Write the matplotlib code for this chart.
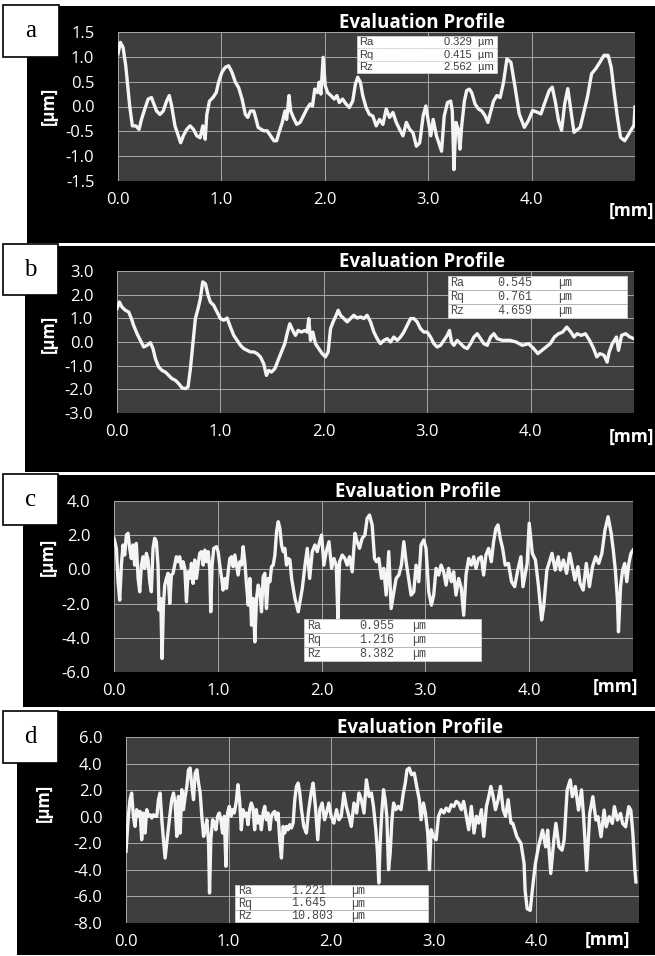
import matplotlib.pyplot as plt
from matplotlib.patches import Rectangle
from matplotlib.lines import Line2D

plt.rcParams['font.family'] = ['Open Sans', 'DejaVu Sans']

# ---- profile data (x in mm, height in um) ----
a_x = [0.000, 0.023, 0.049, 0.075, 0.097, 0.113, 0.139, 0.172, 0.204, 0.227,
       0.259, 0.292, 0.324, 0.347, 0.373, 0.405, 0.438, 0.470, 0.496, 0.519,
       0.551, 0.584, 0.606, 0.632, 0.665, 0.697, 0.730, 0.762, 0.794, 0.820,
       0.843, 0.859, 0.885, 0.918, 0.950, 0.973, 1.005, 1.038, 1.070, 1.102,
       1.135, 1.167, 1.200, 1.232, 1.255, 1.281, 1.313, 1.336, 1.355, 1.385,
       1.410, 1.443, 1.475, 1.508, 1.534, 1.556, 1.589, 1.615, 1.631, 1.654,
       1.670, 1.696, 1.728, 1.761, 1.793, 1.826, 1.858, 1.881, 1.903, 1.929,
       1.945, 1.962, 1.984, 2.004, 2.027, 2.059, 2.091, 2.117, 2.140, 2.172,
       2.205, 2.237, 2.270, 2.296, 2.318, 2.344, 2.367, 2.399, 2.432, 2.464,
       2.497, 2.529, 2.562, 2.594, 2.626, 2.659, 2.691, 2.724, 2.756, 2.789,
       2.821, 2.853, 2.886, 2.918, 2.951, 2.977, 2.999, 3.025, 3.048, 3.080,
       3.113, 3.129, 3.155, 3.187, 3.217, 3.233, 3.249, 3.268, 3.291, 3.307,
       3.324, 3.350, 3.372, 3.398, 3.421, 3.453, 3.486, 3.518, 3.551, 3.577,
       3.606, 3.632, 3.664, 3.696, 3.729, 3.761,
       3.80, 3.84, 3.88, 3.93, 3.97, 4.01, 4.05, 4.09, 4.13, 4.17,
       4.20, 4.23, 4.26, 4.29, 4.32, 4.35, 4.38, 4.41, 4.47, 4.54,
       4.58, 4.62, 4.66, 4.70, 4.74, 4.77, 4.80, 4.83, 4.86, 4.90,
       4.93, 4.96, 4.99, 5.00]
a_y = [1.06, 1.29, 1.19, 0.82, 0.35, 0.01, -0.39, -0.39, -0.46, -0.26,
       -0.05, 0.15, 0.18, 0.05, -0.09, -0.16, -0.09, 0.11, 0.22, 0.01,
       -0.39, -0.59, -0.73, -0.59, -0.46, -0.39, -0.46, -0.59, -0.63, -0.39,
       -0.66, -0.16, 0.11, 0.18, 0.28, 0.49, 0.69, 0.79, 0.82, 0.69,
       0.49, 0.38, 0.15, -0.16, -0.22, -0.09, -0.09, -0.26, -0.42, -0.46,
       -0.49, -0.49, -0.59, -0.69, -0.69, -0.53, -0.32, -0.09, -0.26, 0.22,
       -0.09, -0.22, -0.36, -0.32, -0.19, -0.05, 0.05, 0.01, 0.35, 0.28,
       0.49, 0.25, 0.99, 0.42, 0.28, 0.22, 0.15, 0.22, 0.08, 0.15,
       0.05, -0.02, 0.11, 0.45, 0.59, 0.49, 0.22, -0.02, -0.16, -0.19,
       -0.39, -0.26, -0.36, -0.05, -0.22, -0.12, -0.32, -0.46, -0.59, -0.32,
       -0.46, -0.53, -0.80, -0.73, -0.19, 0.01, -0.26, -0.59, -0.26, -0.59,
       -0.80, -0.90, -0.19, 0.08, 0.11, -0.09, -1.27, -0.32, -0.46, -0.86,
       -0.39, 0.11, 0.32, 0.35, 0.28, 0.05, -0.05, -0.09, -0.19, -0.32,
       -0.09, 0.11, 0.22, 0.18, 0.49, 0.96,
       0.89, 0.39, -0.15, -0.42, -0.28, -0.08, -0.11, -0.15, 0.09, 0.32,
       0.39, 0.09, -0.28, -0.48, 0.05, 0.36, -0.08, -0.52, -0.42, 0.19,
       0.66, 0.76, 0.89, 1.03, 1.03, 0.79, 0.26, -0.22, -0.62, -0.69,
       -0.59, -0.48, -0.38, -0.01]

b_x = [0.000, 0.023, 0.048, 0.081, 0.113, 0.139, 0.161, 0.194, 0.226, 0.258,
       0.290, 0.323, 0.348, 0.371, 0.403, 0.435, 0.468, 0.500, 0.532, 0.565,
       0.597, 0.629, 0.661, 0.687, 0.710, 0.732, 0.758, 0.784, 0.806, 0.829,
       0.855, 0.881, 0.903, 0.935, 0.968, 1.000, 1.032, 1.065, 1.097, 1.129,
       1.161, 1.194, 1.226, 1.258, 1.290, 1.323, 1.355, 1.387, 1.419, 1.445,
       1.468, 1.494, 1.526, 1.558, 1.590, 1.623, 1.645, 1.671, 1.700, 1.726,
       1.752, 1.784, 1.816, 1.839, 1.855, 1.871, 1.894, 1.919, 1.952, 1.984,
       2.016, 2.042, 2.065, 2.090, 2.113, 2.139, 2.161, 2.194, 2.226, 2.258,
       2.290, 2.323, 2.355, 2.387, 2.419, 2.452, 2.484, 2.516, 2.548, 2.581,
       2.613, 2.645, 2.677, 2.710, 2.742, 2.774, 2.806, 2.839, 2.871, 2.903,
       2.935, 2.968, 3.000, 3.032, 3.065, 3.097, 3.129, 3.161, 3.194, 3.216,
       3.235, 3.258, 3.290, 3.323, 3.355, 3.387, 3.419, 3.452, 3.484, 3.516,
       3.548, 3.581, 3.613, 3.645, 3.677, 3.726, 3.774,
       3.80, 3.86, 3.92, 3.98, 4.03, 4.07, 4.11, 4.15, 4.19, 4.23,
       4.27, 4.31, 4.35, 4.39, 4.42, 4.45, 4.49, 4.53, 4.57, 4.61,
       4.64, 4.67, 4.71, 4.74, 4.76, 4.79, 4.83, 4.85, 4.88, 4.92,
       4.96, 5.00]
b_y = [1.41, 1.69, 1.48, 1.34, 1.27, 0.99, 0.70, 0.35, 0.07, -0.21,
       -0.14, -0.03, -0.28, -0.70, -1.06, -1.20, -1.27, -1.41, -1.55, -1.62,
       -1.76, -1.94, -1.97, -1.90, -1.13, -0.14, 0.99, 1.41, 1.83, 2.54,
       2.46, 1.97, 1.69, 1.55, 1.27, 0.99, 0.92, 1.01, 0.63, 0.28,
       0.07, -0.14, -0.28, -0.35, -0.42, -0.42, -0.49, -0.63, -0.92, -1.41,
       -1.20, -1.27, -1.13, -0.77, -0.42, -0.07, 0.35, 0.77, 0.49, 0.28,
       0.49, 0.42, 0.49, 0.42, 0.99, 0.07, 0.42, -0.07, -0.28, -0.49,
       -0.63, -0.42, 0.56, 0.85, 1.06, 1.34, 1.13, 0.99, 0.85, 0.99,
       1.13, 1.01, 1.06, 0.99, 1.13, 0.85, 0.42, 0.14, -0.07, 0.07,
       0.14, 0.00, 0.21, 0.07, 0.21, 0.42, 0.70, 0.99, 0.99, 0.85,
       0.56, 0.42, 0.42, 0.21, -0.07, -0.21, -0.14, 0.07, 0.28, 0.49,
       0.00, -0.14, 0.07, -0.07, -0.21, -0.28, -0.07, 0.21, 0.35, 0.14,
       -0.07, -0.14, 0.21, 0.35, 0.14, 0.07, 0.07,
       0.07, 0.00, -0.14, -0.07, -0.28, -0.49, -0.35, -0.21, -0.07, 0.21,
       0.35, 0.42, 0.63, 0.42, 0.21, 0.35, 0.28, 0.35, 0.07, -0.28,
       -0.63, -0.49, -0.56, -0.85, -0.42, -0.07, 0.21, -0.35, 0.28, 0.35,
       0.21, 0.14]

c_x = [0.000, 0.023, 0.039, 0.055, 0.071, 0.087, 0.103, 0.119, 0.135, 0.151,
       0.167, 0.183, 0.199, 0.215, 0.232, 0.248, 0.264, 0.280, 0.296, 0.312,
       0.328, 0.344, 0.360, 0.376, 0.392, 0.408, 0.424, 0.434, 0.450, 0.463,
       0.476, 0.489, 0.505, 0.521, 0.537, 0.553, 0.569, 0.585, 0.601, 0.617,
       0.633, 0.650, 0.666, 0.682, 0.698, 0.714, 0.730, 0.746, 0.762, 0.778,
       0.794, 0.810, 0.826, 0.842, 0.859, 0.875, 0.891, 0.907, 0.923, 0.932,
       0.945, 0.961, 0.987, 1.003, 1.019, 1.035, 1.051, 1.068, 1.084, 1.100,
       1.116, 1.132, 1.148, 1.164, 1.180, 1.196, 1.212, 1.228, 1.244, 1.260,
       1.277, 1.293, 1.309, 1.325, 1.341, 1.357, 1.373, 1.389, 1.405, 1.421,
       1.437, 1.453, 1.469, 1.486, 1.502, 1.518, 1.534, 1.550, 1.566, 1.582,
       1.598, 1.614, 1.630, 1.646, 1.662, 1.678, 1.695, 1.711, 1.743, 1.775,
       1.814, 1.840, 1.862, 1.885, 1.910, 1.936, 1.958, 1.981, 2.000, 2.022,
       2.045, 2.071, 2.096, 2.119, 2.141, 2.157, 2.173, 2.199, 2.224, 2.247,
       2.269, 2.295, 2.321, 2.343, 2.365, 2.391, 2.417, 2.439, 2.462, 2.487,
       2.510, 2.529, 2.551, 2.577, 2.599, 2.622, 2.647, 2.670, 2.696, 2.718,
       2.744, 2.769, 2.792, 2.814, 2.840, 2.862, 2.888, 2.910, 2.936, 2.958,
       2.984, 3.006, 3.032, 3.058, 3.080, 3.103, 3.128, 3.151, 3.176, 3.199,
       3.224, 3.250, 3.272, 3.295, 3.321, 3.346, 3.369, 3.391, 3.417, 3.442,
       3.465, 3.487, 3.513, 3.538, 3.561, 3.583, 3.609, 3.635, 3.657, 3.679,
       3.699, 3.721, 3.744, 3.769,
       3.80, 3.83, 3.86, 3.89, 3.92, 3.94, 3.98, 4.00, 4.03, 4.06,
       4.09, 4.12, 4.14, 4.17, 4.20, 4.22, 4.25, 4.28, 4.30, 4.33,
       4.36, 4.39, 4.41, 4.44, 4.47, 4.49, 4.52, 4.55, 4.58, 4.61,
       4.64, 4.67, 4.70, 4.73, 4.76, 4.79, 4.81, 4.83, 4.85, 4.86,
       4.88, 4.90, 4.92, 4.94, 4.96, 4.98, 5.00]
c_y = [1.82, 1.23, -0.72, -1.80, 0.25, 1.43, 0.84, 2.01, 2.11, 1.23,
       0.64, 1.43, 0.25, 1.52, -0.53, -1.31, 0.25, 0.74, 0.06, 0.94,
       0.55, -0.72, -1.31, 1.23, 1.82, 1.62, 0.25, -2.38, -1.70, -5.21,
       -2.09, -0.92, -0.53, -0.23, -1.99, -0.33, -0.23, 0.25, 0.74, 0.45,
       0.74, 0.06, 0.45, 0.06, -1.89, -0.14, -0.53, 0.35, -0.82, 0.55,
       -0.53, 0.25, 0.94, 1.04, 0.25, 1.13, 0.45, 1.04, -0.04, -2.48,
       0.25, 1.23, 1.33, 1.04, 0.25, -0.43, -1.21, -0.53, -1.11, -0.14,
       0.64, 0.74, 0.16, 0.84, 0.25, -0.33, 0.45, 0.25, 1.33, 0.45,
       -0.92, -2.09, -0.53, -3.26, -1.70, -4.24, -1.70, -0.92, -1.31, -2.48,
       -0.43, -0.23, -2.29, -0.53, -0.72, 0.16, 0.25, 0.84, 2.21, 2.79,
       2.40, 1.43, 1.04, 1.23, 0.25, 0.64, 0.55, -0.53, -1.70, -2.48,
       -1.11, 0.25, 1.23, -0.53, 1.04, 1.43, 1.04, 1.62, 2.01, 0.25,
       1.04, 1.62, 0.06, 0.64, 0.25, -2.87, 0.45, 0.84, 0.64, 0.25,
       0.74, -0.14, 2.11, 1.62, 1.23, 1.82, 2.01, 2.99, 3.18, 2.60,
       0.64, 0.45, 0.64, -0.53, 0.06, -1.50, 1.04, -2.29, -1.31, -0.53,
       -0.33, 0.25, 1.62, 0.45, -0.62, -1.50, -1.31, 0.25, -0.72, 1.43,
       1.72, 1.23, -1.31, -2.09, -1.50, 0.06, -0.33, 0.25, -0.14, -0.92,
       0.06, -0.72, -0.14, -1.50, -0.53, -1.11, -2.68, -0.33, 0.64, 0.25,
       0.74, 0.06, 0.64, 0.74, -0.33, 0.84, 1.23, 0.45, 1.62, 2.40,
       2.60, 1.82, 1.23, 0.25,
       0.35, -0.72, -1.01, -0.04, 0.74, -1.01, 0.35, 2.70, 0.94, 0.55,
       -1.01, -2.96, -2.18, -0.04, 0.55, 0.94, -0.04, 0.74, -0.04, 0.55,
       -0.23, 0.94, 0.35, -0.62, 0.16, -0.82, -1.21, 0.35, -1.01, 0.16,
       0.74, 0.35, 0.94, 2.30, 3.08, 2.10, 1.13, -0.04, -1.79, -3.65,
       -1.01, -0.04, 0.35, -0.72, 0.35, 0.94, 1.13]

d_x = [0.000, 0.023, 0.039, 0.055, 0.072, 0.088, 0.104, 0.121, 0.137, 0.153,
       0.169, 0.186, 0.202, 0.218, 0.235, 0.251, 0.267, 0.283, 0.300, 0.316,
       0.332, 0.349, 0.365, 0.381, 0.397, 0.414, 0.430, 0.446, 0.463, 0.479,
       0.495, 0.511, 0.528, 0.544, 0.560, 0.577, 0.593, 0.609, 0.625, 0.642,
       0.658, 0.674, 0.691, 0.707, 0.723, 0.739, 0.756, 0.772, 0.788, 0.805,
       0.814, 0.827, 0.844, 0.860, 0.876, 0.893, 0.909, 0.925, 0.941, 0.958,
       0.974, 0.990, 1.007, 1.023, 1.039, 1.055, 1.075, 1.091, 1.107, 1.124,
       1.140, 1.156, 1.173, 1.189, 1.205, 1.221, 1.238, 1.254, 1.270, 1.287,
       1.303, 1.319, 1.336, 1.352, 1.368, 1.384, 1.401, 1.417, 1.433, 1.450,
       1.466, 1.482, 1.498, 1.515, 1.531, 1.547, 1.564, 1.580, 1.596, 1.612,
       1.629, 1.645, 1.661, 1.678, 1.694, 1.710, 1.733,
       1.758, 1.781, 1.804, 1.824, 1.846, 1.869, 1.889, 1.912, 1.935, 1.954,
       1.977, 2.000, 2.026, 2.052, 2.075, 2.098, 2.124, 2.147, 2.173, 2.196,
       2.222, 2.248, 2.271, 2.294, 2.320, 2.343, 2.369, 2.392, 2.412, 2.435,
       2.451, 2.464, 2.477, 2.493, 2.510, 2.526, 2.542, 2.559, 2.575, 2.592,
       2.608, 2.631, 2.654, 2.680, 2.703, 2.722, 2.739, 2.761, 2.784, 2.810,
       2.833, 2.859, 2.876, 2.899, 2.918, 2.941, 2.958, 2.974, 2.997, 3.023,
       3.046, 3.072, 3.098, 3.121, 3.147, 3.170, 3.196, 3.219, 3.242, 3.268,
       3.291, 3.317, 3.340, 3.366, 3.392, 3.415, 3.438, 3.464, 3.487, 3.513,
       3.536, 3.556, 3.578, 3.601, 3.627, 3.650, 3.676, 3.699, 3.725, 3.752,
       3.77, 3.81, 3.85, 3.88, 3.89, 3.91, 3.94, 3.96, 3.99, 4.02,
       4.06, 4.09, 4.11, 4.14, 4.17, 4.19, 4.22, 4.25, 4.27, 4.30,
       4.33, 4.35, 4.38, 4.41, 4.44, 4.46, 4.49, 4.52, 4.55, 4.58,
       4.60, 4.63, 4.66, 4.68, 4.71, 4.74, 4.76, 4.79, 4.82, 4.84,
       4.87, 4.90, 4.92, 4.94, 4.96, 4.97]
d_y = [-2.61, 0.03, 1.28, 1.78, 0.03, -0.73, 0.53, 0.03, 0.40, -1.73,
       0.28, -1.23, 0.53, 0.03, 0.15, -0.10, 0.15, 0.03, 0.03, 1.28,
       1.78, -0.23, -1.73, -3.11, -1.98, -0.73, 0.28, 1.28, 1.78, 1.03,
       -1.48, 1.53, -1.23, 2.03, 0.53, 1.53, 2.28, 3.53, 3.66, 2.28,
       1.28, 3.28, 3.53, 2.53, 1.78, 0.03, -1.48, -0.98, -0.23, -1.98,
       -5.74, -1.73, -0.23, -0.48, -0.98, 0.03, 0.28, -0.23, -1.23, 0.03,
       -3.73, 0.28, 0.78, 0.03, 0.53, 0.28, 1.15, 2.41, 1.28, -0.98,
       0.53, 0.03, 0.28, -0.60, 0.53, 1.03, 0.65, -0.98, 0.53, -0.48,
       0.03, -0.98, 0.28, 0.78, -0.23, 0.28, -0.98, 0.03, 0.28, 0.40,
       -0.23, 0.28, -1.73, -3.11, -0.73, -1.23, -0.73, -0.98, -0.60, -0.85,
       -0.48, 1.28, 2.28, 2.53, 1.78, 0.53, -0.73,
       -1.23, 0.53, 1.78, 2.53, 0.78, -1.73, 0.53, 1.03, -0.23, 0.28,
       1.03, 0.03, -0.48, 0.53, -0.23, 0.03, 1.78, 0.78, 0.03, -0.73,
       1.03, 0.28, 1.78, 1.28, 0.28, 2.78, 1.53, 1.78, 0.78, -0.98,
       -2.73, -4.99, -1.98, 0.28, 2.03, 1.28, 0.03, -3.99, -2.73, -0.23,
       1.03, 0.53, 0.78, 0.53, 1.78, 2.53, 3.53, 3.66, 3.16, 3.28,
       2.28, 1.28, -0.23, 1.03, 0.28, -1.23, -3.99, -0.98, -1.48, -1.73,
       0.03, 0.53, 0.28, 0.65, 0.40, 0.90, 0.78, 1.15, 1.03, 0.53,
       1.15, 0.03, -0.98, 0.78, -1.23, 0.03, -0.48, 0.53, -1.48, 0.78,
       1.53, 2.28, 1.53, 0.53, 1.28, 2.28, 0.53, 0.03, 1.28, -0.48,
       -0.50, -1.51, -2.02, -3.53, -5.54, -6.93, -7.05, -5.54, -3.53, -2.27,
       -1.01, -2.27, -1.01, -4.28, -1.76, -0.50, -2.27, -2.52, -1.76, 2.02,
       2.77, 1.51, 2.27, 0.50, 2.02, 0.00, -4.03, 0.25, 1.51, -0.25,
       0.00, -1.51, 0.50, -0.76, 0.00, -0.50, 0.76, -0.25, 0.25, -0.50,
       -0.76, 0.76, 0.50, -1.26, -4.03, -4.91]

# axis ticks
x_ticks = [0, 1, 2, 3, 4]
a_yticks = [-1.5, -1.0, -0.5, 0.0, 0.5, 1.0, 1.5]
b_yticks = [-3.0, -2.0, -1.0, 0.0, 1.0, 2.0, 3.0]
c_yticks = [-6.0, -4.0, -2.0, 0.0, 2.0, 4.0]
d_yticks = [-8.0, -6.0, -4.0, -2.0, 0.0, 2.0, 4.0, 6.0]

# roughness parameters
param_names = ['Ra', 'Rq', 'Rz']
a_vals = ['0.329', '0.415', '2.562']
b_vals = ['0.545', '0.761', '4.659']
c_vals = ['0.955', '1.216', '8.382']
d_vals = ['1.221', '1.645', '10.803']
unit = 'µm'

W, H = 655, 956
fig = plt.figure(figsize=(W / 100, H / 100), dpi=100)
fig.patch.set_facecolor('white')


def rect_frac(x0, y0, x1, y1):
    # pixel box with top-left origin -> figure fraction
    return [x0 / W, 1 - y1 / H, (x1 - x0) / W, (y1 - y0) / H]


def fpt(x, y):
    return x / W, 1 - y / H


def add_rect(x0, y0, x1, y1, **kw):
    l, b, w, h = rect_frac(x0, y0, x1, y1)
    r = Rectangle((l, b), w, h, transform=fig.transFigure, **kw)
    fig.add_artist(r)


def stats_box(box, vals, mono, cols):
    x0, y0, x1, y1 = box
    add_rect(x0, y0, x1, y1, facecolor='white', edgecolor='#d0d0d0', lw=0.6, zorder=5)
    rh = (y1 - y0) / 3
    for i in range(1, 3):
        yy = 1 - (y0 + i * rh) / H
        fig.add_artist(Line2D([x0 / W, x1 / W], [yy, yy], transform=fig.transFigure,
                              color='#aaaaaa', lw=0.6,
                              ls=(0, (1, 1)) if not mono else '-', zorder=6))
    for i, (n, v) in enumerate(zip(param_names, vals)):
        yc = y0 + (i + 0.5) * rh
        if mono:
            kw = dict(family='Liberation Mono', fontsize=8.5, color='#4a4a4a',
                      va='center', zorder=7)
            fig.text(*fpt(cols[0], yc), n, ha='left', **kw)
            fig.text(*fpt(cols[1], yc), v, ha='left', **kw)
            fig.text(*fpt(cols[2], yc), unit, ha='left', **kw)
        else:
            kw = dict(family='Liberation Sans', fontsize=8, color='#3c3c3c',
                      va='center', zorder=7)
            fig.text(*fpt(cols[0], yc), n, ha='left', **kw)
            fig.text(*fpt(cols[1], yc), v + '  ' + unit, ha='right', **kw)


panels = [
    dict(letter='a', x=a_x, y=a_y, yt=a_yticks, yl=(-1.5, 1.5),
         bg=(27, 6, 655, 243), lab=(3, 5, 59, 57), ax=(118, 32, 635, 181),
         title=(422, 23), ylab=(49, 106), mm=(631, 211),
         sbox=(357, 36, 497, 73), vals=a_vals, mono=False, cols=(359, 494)),
    dict(letter='b', x=b_x, y=b_y, yt=b_yticks, yl=(-3, 3),
         bg=(25, 246, 655, 472), lab=(3, 244, 58, 295), ax=(117, 271, 634, 413),
         title=(422, 262), ylab=(49, 334), mm=(631, 437),
         sbox=(448, 276, 627, 318), vals=b_vals, mono=True, cols=(450, 497, 558)),
    dict(letter='c', x=c_x, y=c_y, yt=c_yticks, yl=(-6, 4),
         bg=(23, 475, 655, 707), lab=(3, 474, 58, 525), ax=(114, 501, 633, 672),
         title=(418, 492), ylab=(48, 557), mm=(615, 687),
         sbox=(304, 619, 481, 661), vals=c_vals, mono=True, cols=(307, 359, 412)),
    dict(letter='d', x=d_x, y=d_y, yt=d_yticks, yl=(-8, 6),
         bg=(17, 711, 655, 955), lab=(3, 711, 58, 763), ax=(126, 737, 639, 923),
         title=(420, 728), ylab=(44, 803), mm=(607, 940),
         sbox=(235, 885, 428, 922), vals=d_vals, mono=True, cols=(238, 291, 351)),
]

for p in panels:
    add_rect(*p['bg'], facecolor='black', edgecolor='none', zorder=-2)

    ax = fig.add_axes(rect_frac(*p['ax']))
    ax.set_facecolor('#3e3e3e')
    ax.plot(p['x'], p['y'], color='#f4f4f4', lw=2.4, solid_joinstyle='round')
    ax.set_xlim(0, 5)
    ax.set_ylim(*p['yl'])
    ax.set_xticks(x_ticks)
    ax.set_xticklabels([f'{v:.1f}' for v in x_ticks])
    ax.set_yticks(p['yt'])
    ax.set_yticklabels([f'{v:.1f}' for v in p['yt']])
    ax.grid(True, color='#a8a8a8', lw=0.7)
    ax.set_axisbelow(True)
    for s in ax.spines.values():
        s.set_visible(False)
    ax.tick_params(axis='y', length=0, pad=17, labelsize=12, labelcolor='white')
    ax.tick_params(axis='x', length=0, pad=8, labelsize=12, labelcolor='white')

    fig.text(*fpt(*p['title']), 'Evaluation Profile', ha='center', va='center',
             color='white', fontsize=13.5, fontweight='bold')
    fig.text(*fpt(*p['ylab']), '[µm]', ha='center', va='center', rotation=90,
             color='white', fontsize=12, fontweight='bold')
    fig.text(*fpt(*p['mm']), '[mm]', ha='center', va='center',
             color='white', fontsize=12.5, fontweight='bold')

    add_rect(*p['lab'], facecolor='white', edgecolor='black', lw=1.2, zorder=8)
    lx0, ly0, lx1, ly1 = p['lab']
    fig.text(*fpt((lx0 + lx1) / 2, (ly0 + ly1) / 2), p['letter'], ha='center',
             va='center', family='Liberation Serif', fontsize=18, color='black',
             zorder=9)

    stats_box(p['sbox'], p['vals'], p['mono'], p['cols'])

fig.savefig('out.png', dpi=100, facecolor='white')
